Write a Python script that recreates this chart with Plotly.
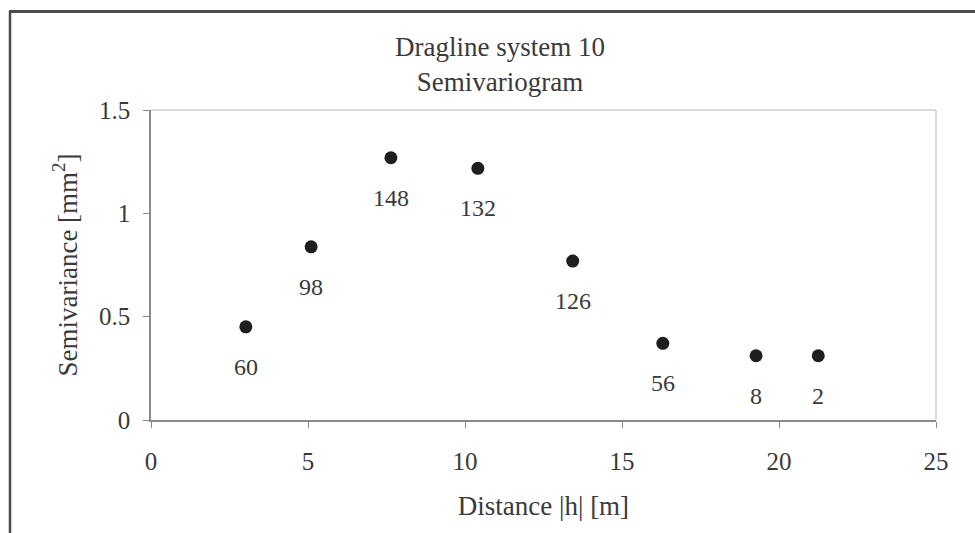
import plotly.graph_objects as go

# Data
distance = [3.02, 5.10, 7.64, 10.41, 13.43, 16.30, 19.27, 21.25]
semivariance = [0.451, 0.838, 1.269, 1.218, 0.769, 0.371, 0.311, 0.311]
pair_counts = [60, 98, 148, 132, 126, 56, 8, 2]

x_ticks = [0, 5, 10, 15, 20, 25]
y_ticks = [0, 0.5, 1, 1.5]
y_tick_text = ["0", "0.5", "1", "1.5"]

FONT = "Liberation Serif, Times New Roman, serif"
TXT = "#3a3a3a"

W, H = 975, 533
L, R, T, B = 151, 39, 110, 113
pw, ph = W - L - R, H - T - B

def px_to_paper_x(px):
    return (px - L) / pw

def px_to_paper_y(py):
    return (H - B - py) / ph

fig = go.Figure()
fig.add_trace(go.Scatter(
    x=distance, y=semivariance, mode="markers",
    marker=dict(size=13, color="#1e1e1e"),
    showlegend=False, hoverinfo="x+y",
))

for xv, yv, n in zip(distance, semivariance, pair_counts):
    fig.add_annotation(x=xv, y=yv, text=str(n), showarrow=False,
                       yshift=-40, font=dict(family=FONT, size=24, color=TXT))

shapes = [
    # plot-area frame (light) on top and right
    dict(type="line", xref="paper", yref="paper", x0=0, x1=1, y0=1, y1=1,
         line=dict(color="#cfcfcf", width=1.5)),
    dict(type="line", xref="paper", yref="paper", x0=1, x1=1, y0=0, y1=1,
         line=dict(color="#cfcfcf", width=1.5)),
    # outer chart frame (left and top visible)
    dict(type="line", xref="paper", yref="paper",
         x0=px_to_paper_x(10), x1=px_to_paper_x(10),
         y0=px_to_paper_y(11), y1=px_to_paper_y(545),
         line=dict(color="#4a4a4a", width=2.5), layer="above"),
    dict(type="line", xref="paper", yref="paper",
         x0=px_to_paper_x(9), x1=px_to_paper_x(990),
         y0=px_to_paper_y(11.5), y1=px_to_paper_y(11.5),
         line=dict(color="#4a4a4a", width=3), layer="above"),
]

fig.update_layout(
    width=W, height=H,
    margin=dict(l=L, r=R, t=T, b=B, autoexpand=False),
    paper_bgcolor="white", plot_bgcolor="white",
    font=dict(family=FONT, color=TXT),
    title=dict(text="Dragline system 10<br>Semivariogram",
               x=500 / W, xanchor="center", xref="container",
               y=1 - 56 / H, yanchor="top", yref="container",
               font=dict(family=FONT, size=27, color=TXT)),
    shapes=shapes,
    xaxis=dict(range=[0, 25], tickvals=x_ticks, showgrid=False, zeroline=False,
               showline=True, linecolor="#8a8a8a", linewidth=1.5,
               ticks="outside", ticklen=6, tickcolor="#8a8a8a", tickwidth=1,
               ticklabelstandoff=12,
               tickfont=dict(family=FONT, size=25, color=TXT),
               title=dict(text="Distance |h| [m]", standoff=22,
                          font=dict(family=FONT, size=27, color=TXT))),
    yaxis=dict(range=[0, 1.5], tickvals=y_ticks, ticktext=y_tick_text,
               showgrid=False, zeroline=False,
               showline=True, linecolor="#8a8a8a", linewidth=1.5,
               ticks="outside", ticklen=6, tickcolor="#8a8a8a", tickwidth=1,
               ticklabelstandoff=8,
               tickfont=dict(family=FONT, size=25, color=TXT),
               title=dict(text="Semivariance [mm<sup>2</sup>]", standoff=14,
                          font=dict(family=FONT, size=27, color=TXT))),
)

fig.write_html("out.html")
